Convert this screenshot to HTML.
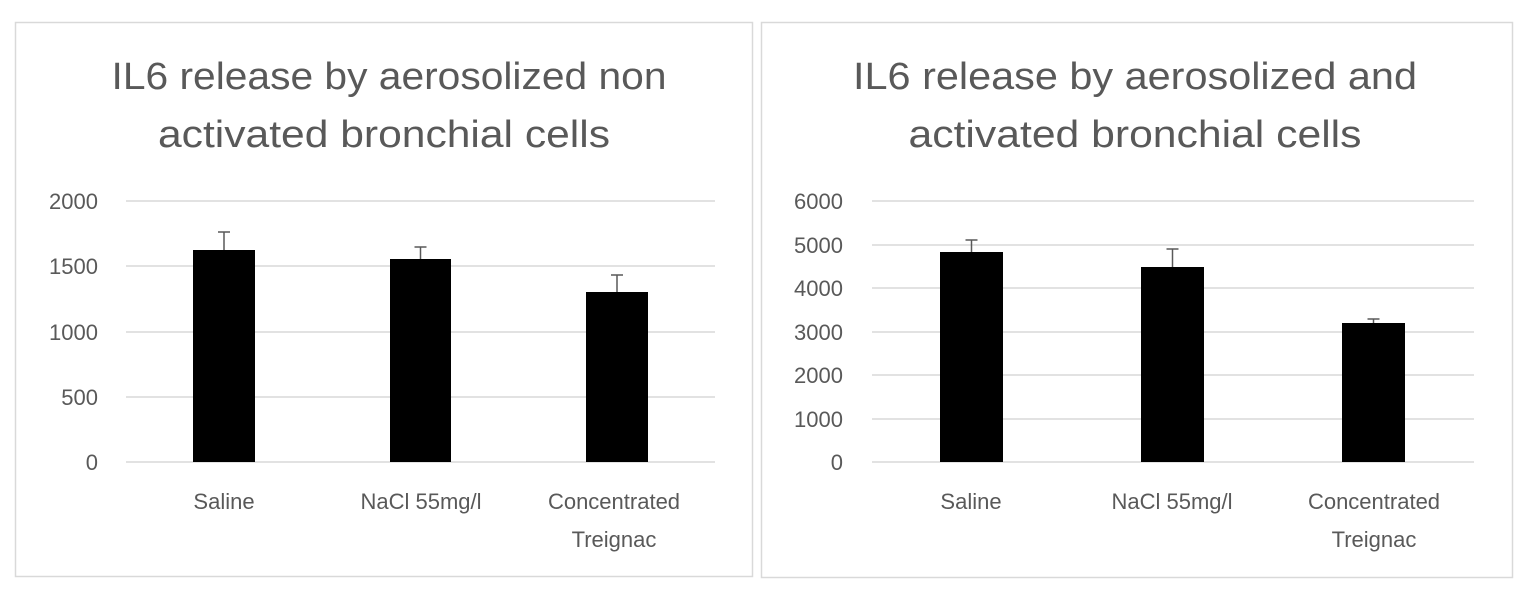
<!DOCTYPE html>
<html><head><meta charset="utf-8"><style>body{margin:0;background:#fff}svg{display:block}</style></head>
<body>
<svg width="1525" height="590" xmlns="http://www.w3.org/2000/svg" font-family="Liberation Sans, sans-serif" fill="#595959">
<rect x="0" y="0" width="1525" height="590" fill="#fff"/>
<rect x="15.5" y="22.5" width="737" height="554" fill="none" stroke="#d9d9d9" stroke-width="1.5"/>
<rect x="761.5" y="22.5" width="751" height="555" fill="none" stroke="#d9d9d9" stroke-width="1.5"/>
<!-- Left chart -->
<text x="389" y="89" font-size="38" text-anchor="middle" textLength="555" lengthAdjust="spacingAndGlyphs">IL6 release by aerosolized non</text>
<text x="384" y="147" font-size="38" text-anchor="middle" textLength="452" lengthAdjust="spacingAndGlyphs">activated bronchial cells</text>
<g stroke="#d9d9d9" stroke-width="1.5">
<line x1="126" x2="715" y1="201" y2="201"/><line x1="126" x2="715" y1="266" y2="266"/><line x1="126" x2="715" y1="332" y2="332"/><line x1="126" x2="715" y1="397" y2="397"/><line x1="126" x2="715" y1="462" y2="462"/>
</g>
<g font-size="22" text-anchor="end">
<text x="98" y="209">2000</text><text x="98" y="274">1500</text><text x="98" y="340">1000</text><text x="98" y="405">500</text><text x="98" y="470">0</text>
</g>
<g fill="#000"><rect x="193" y="250" width="62" height="212"/><rect x="390" y="259" width="61" height="203"/><rect x="586" y="292" width="62" height="170"/></g>
<g stroke="#595959" stroke-width="1.5">
<line x1="224" x2="224" y1="232" y2="250"/><line x1="218" x2="230" y1="232" y2="232"/>
<line x1="420.5" x2="420.5" y1="247" y2="259"/><line x1="414.5" x2="426.5" y1="247" y2="247"/>
<line x1="617" x2="617" y1="275" y2="292"/><line x1="611" x2="623" y1="275" y2="275"/>
</g>
<g font-size="22" text-anchor="middle">
<text x="224" y="509">Saline</text><text x="421" y="509">NaCl 55mg/l</text><text x="614" y="509">Concentrated</text><text x="614" y="547">Treignac</text>
</g>
<!-- Right chart -->
<text x="1135" y="89" font-size="38" text-anchor="middle" textLength="564" lengthAdjust="spacingAndGlyphs">IL6 release by aerosolized and</text>
<text x="1135" y="147" font-size="38" text-anchor="middle" textLength="453" lengthAdjust="spacingAndGlyphs">activated bronchial cells</text>
<g stroke="#d9d9d9" stroke-width="1.5">
<line x1="872" x2="1474" y1="201" y2="201"/><line x1="872" x2="1474" y1="245" y2="245"/><line x1="872" x2="1474" y1="288" y2="288"/><line x1="872" x2="1474" y1="332" y2="332"/><line x1="872" x2="1474" y1="375" y2="375"/><line x1="872" x2="1474" y1="419" y2="419"/><line x1="872" x2="1474" y1="462" y2="462"/>
</g>
<g font-size="22" text-anchor="end">
<text x="843" y="209">6000</text><text x="843" y="253">5000</text><text x="843" y="296">4000</text><text x="843" y="340">3000</text><text x="843" y="383">2000</text><text x="843" y="427">1000</text><text x="843" y="470">0</text>
</g>
<g fill="#000"><rect x="940" y="252" width="63" height="210"/><rect x="1141" y="267" width="63" height="195"/><rect x="1342" y="323" width="63" height="139"/></g>
<g stroke="#595959" stroke-width="1.5">
<line x1="971.5" x2="971.5" y1="240" y2="252"/><line x1="965.5" x2="977.5" y1="240" y2="240"/>
<line x1="1172.5" x2="1172.5" y1="249" y2="267"/><line x1="1166.5" x2="1178.5" y1="249" y2="249"/>
<line x1="1373.5" x2="1373.5" y1="319" y2="323"/><line x1="1367.5" x2="1379.5" y1="319" y2="319"/>
</g>
<g font-size="22" text-anchor="middle">
<text x="971" y="509">Saline</text><text x="1172" y="509">NaCl 55mg/l</text><text x="1374" y="509">Concentrated</text><text x="1374" y="547">Treignac</text>
</g>
</svg>
</body></html>
